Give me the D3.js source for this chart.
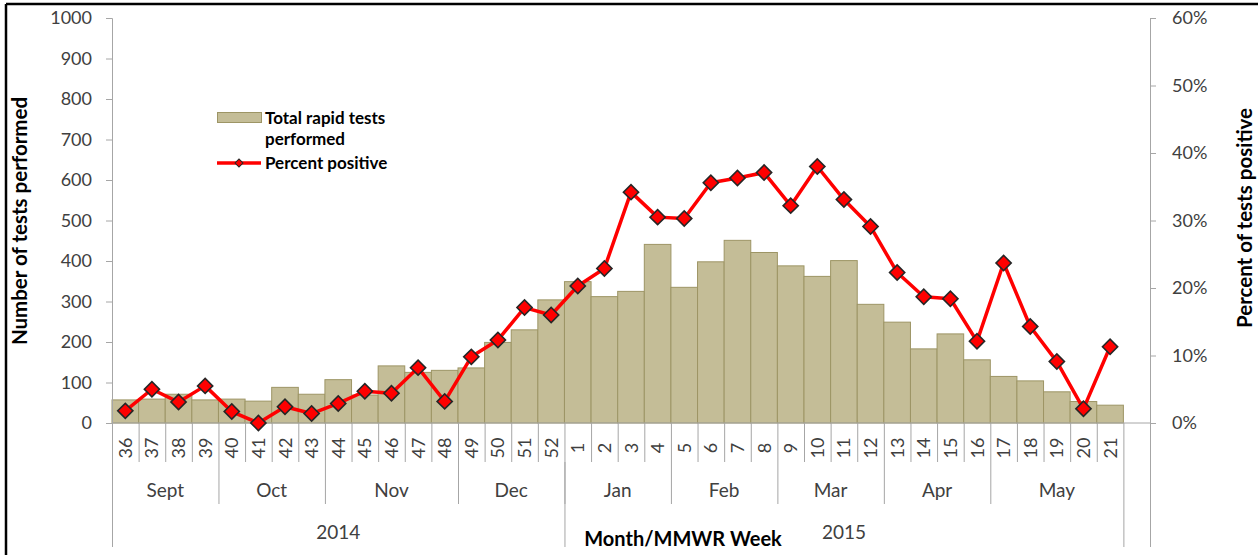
<!DOCTYPE html>
<html>
<head>
<meta charset="utf-8">
<script src="https://cdn.jsdelivr.net/npm/d3@7"></script>
<style>
  body { margin: 0; background: #fff; }
  svg text { font-family: Lato, "Open Sans", sans-serif; }
</style>
</head>
<body>
<svg id="chart" width="1258" height="555"></svg>
<script>
// MMWR weeks, Sept 2014 - May 2015
var weeks = [36, 37, 38, 39, 40, 41, 42, 43, 44, 45, 46, 47, 48, 49, 50, 51, 52,
  1, 2, 3, 4, 5, 6, 7, 8, 9, 10, 11, 12, 13, 14, 15, 16, 17, 18, 19, 20, 21];
var months = ["Sept", "Oct", "Nov", "Dec", "Jan", "Feb", "Mar", "Apr", "May"];
var monthWeeks = [4, 4, 5, 4, 4, 4, 4, 4, 5];
var years = ["2014", "2015"];
var yearWeeks = [17, 21];
var tests = [57, 59, 71, 57, 59, 54, 88, 71, 107, 69, 141, 125, 130, 136, 199, 230, 304,
  349, 312, 325, 441, 335, 398, 451, 421, 388, 362, 401, 293, 249, 183, 220, 156, 115, 104, 77, 53, 44];
var pctPositive = [1.8, 5.0, 3.1, 5.5, 1.7, 0, 2.4, 1.4, 2.9, 4.7, 4.4, 8.2, 3.2, 9.8, 12.3, 17.1, 16.0,
  20.3, 22.9, 34.2, 30.5, 30.3, 35.6, 36.3, 37.1, 32.2, 38.0, 33.1, 29.1, 22.3, 18.7, 18.4, 12.1, 23.7, 14.3, 9.1, 2.1, 11.3];
var leftTicks = [0, 100, 200, 300, 400, 500, 600, 700, 800, 900, 1000];
var rightTicks = [0, 10, 20, 30, 40, 50, 60];

var svg = d3.select("#chart");
var plotLeft = 112, plotRight = 1150, plotTop = 18, plotBottom = 423;
var axisGray = "#a6a6a6", labelColor = "#404040";

// one empty slot after week 21, like the original sheet
var x = d3.scaleBand().domain(d3.range(weeks.length + 1)).range([plotLeft, plotRight]).padding(0);
var yL = d3.scaleLinear().domain([0, 1000]).range([plotBottom, plotTop]);
var yR = d3.scaleLinear().domain([0, 60]).range([plotBottom, plotTop]);

// frame
svg.append("line").attr("x1", 6).attr("x2", 1258).attr("y1", 4).attr("y2", 4)
  .attr("stroke", "#000").attr("stroke-width", 2.5);
svg.append("line").attr("x1", 6).attr("x2", 6).attr("y1", 4).attr("y2", 555)
  .attr("stroke", "#000").attr("stroke-width", 2.5);

// bars
svg.append("g").selectAll("rect").data(tests).enter().append("rect")
  .attr("x", function(d, i) { return x(i); })
  .attr("width", x.bandwidth())
  .attr("y", function(d) { return yL(d); })
  .attr("height", function(d) { return yL(0) - yL(d); })
  .attr("fill", "#c4bd97")
  .attr("stroke", "#9d9565")
  .attr("stroke-width", 1);

// y axes
var gL = svg.append("g").attr("transform", "translate(" + plotLeft + ",0)")
  .call(d3.axisLeft(yL).tickValues(leftTicks).tickSize(6).tickPadding(14)
    .tickFormat(d3.format("d")));
var gR = svg.append("g").attr("transform", "translate(" + plotRight + ",0)")
  .call(d3.axisRight(yR).tickValues(rightTicks).tickSize(6).tickPadding(16)
    .tickFormat(function(d) { return d + "%"; }));
[gL, gR].forEach(function(g) {
  g.selectAll("path, line").attr("stroke", axisGray);
  g.selectAll("text").attr("fill", labelColor).style("font-size", "18px")
    .style("font-family", "Lato, sans-serif");
});

// x axis baseline
svg.append("line").attr("x1", plotLeft).attr("x2", plotRight).attr("y1", plotBottom).attr("y2", plotBottom)
  .attr("stroke", axisGray);

// week separators and labels
var xg = svg.append("g");
var edges = d3.range(weeks.length + 1).map(function(i) { return x(i); }).concat([plotRight]);
edges.forEach(function(px) {
  xg.append("line").attr("x1", px + 0.5).attr("x2", px + 0.5)
    .attr("y1", plotBottom).attr("y2", 462).attr("stroke", axisGray);
});
xg.selectAll("text.week").data(weeks).enter().append("text")
  .attr("class", "week")
  .attr("transform", function(d, i) {
    return "translate(" + (x(i) + x.bandwidth() / 2 + 6.5) + ",448) rotate(-90)";
  })
  .attr("text-anchor", "middle")
  .attr("fill", labelColor)
  .style("font-size", "18px")
  .text(function(d) { return d; });

// months
var start = 0;
months.forEach(function(m, k) {
  var x0 = x(start), x1 = x(start + monthWeeks[k]);
  xg.append("line").attr("x1", x0 + 0.5).attr("x2", x0 + 0.5).attr("y1", 462).attr("y2", 504)
    .attr("stroke", axisGray);
  xg.append("text").attr("x", (x0 + x1) / 2).attr("y", 497)
    .attr("text-anchor", "middle").attr("fill", labelColor).style("font-size", "19px").text(m);
  start += monthWeeks[k];
});

// years
start = 0;
years.forEach(function(yr, k) {
  var x0 = x(start), x1 = x(start + yearWeeks[k]);
  xg.append("text").attr("x", (x0 + x1) / 2).attr("y", 539)
    .attr("text-anchor", "middle").attr("fill", labelColor).style("font-size", "19px").text(yr);
  start += yearWeeks[k];
});
[x(0), x(yearWeeks[0]), x(weeks.length), plotRight].forEach(function(px) {
  xg.append("line").attr("x1", px + 0.5).attr("x2", px + 0.5).attr("y1", 462).attr("y2", 547)
    .attr("stroke", axisGray);
});

// percent positive line
var line = d3.line()
  .x(function(d, i) { return x(i) + x.bandwidth() / 2; })
  .y(function(d) { return yR(d); });
svg.append("path").datum(pctPositive)
  .attr("d", line)
  .attr("fill", "none")
  .attr("stroke", "#ff0000")
  .attr("stroke-width", 3.5)
  .attr("stroke-linejoin", "round");
var diamond = d3.symbol().type(d3.symbolSquare).size(115);
svg.append("g").selectAll("path").data(pctPositive).enter().append("path")
  .attr("d", diamond)
  .attr("transform", function(d, i) {
    return "translate(" + (x(i) + x.bandwidth() / 2) + "," + yR(d) + ") rotate(45)";
  })
  .attr("fill", "#ff0000")
  .attr("stroke", "#262626")
  .attr("stroke-width", 1.6);

// axis titles
svg.append("text")
  .attr("transform", "translate(27,221) rotate(-90)")
  .attr("text-anchor", "middle")
  .style("font-size", "20.5px").style("font-weight", "bold")
  .text("Number of tests performed");
svg.append("text")
  .attr("transform", "translate(1252,218) rotate(-90)")
  .attr("text-anchor", "middle")
  .style("font-size", "20.5px").style("font-weight", "bold")
  .text("Percent of tests positive");
svg.append("text")
  .attr("x", 683).attr("y", 546)
  .attr("text-anchor", "middle")
  .style("font-size", "20px").style("font-weight", "bold")
  .text("Month/MMWR Week");

// legend
var lg = svg.append("g");
lg.append("rect").attr("x", 217.5).attr("y", 112.5).attr("width", 44).attr("height", 10)
  .attr("fill", "#c4bd97").attr("stroke", "#9d9565");
lg.append("text").attr("x", 265).attr("y", 124).style("font-size", "17px").style("font-weight", "bold")
  .text("Total rapid tests");
lg.append("text").attr("x", 265).attr("y", 145).style("font-size", "17px").style("font-weight", "bold")
  .text("performed");
lg.append("line").attr("x1", 217).attr("x2", 261).attr("y1", 163).attr("y2", 163)
  .attr("stroke", "#ff0000").attr("stroke-width", 3.5);
lg.append("path").attr("d", d3.symbol().type(d3.symbolSquare).size(32))
  .attr("transform", "translate(239,163) rotate(45)")
  .attr("fill", "#ff0000").attr("stroke", "#262626").attr("stroke-width", 1);
lg.append("text").attr("x", 265).attr("y", 169).style("font-size", "17px").style("font-weight", "bold")
  .text("Percent positive");
</script>
</body>
</html>
